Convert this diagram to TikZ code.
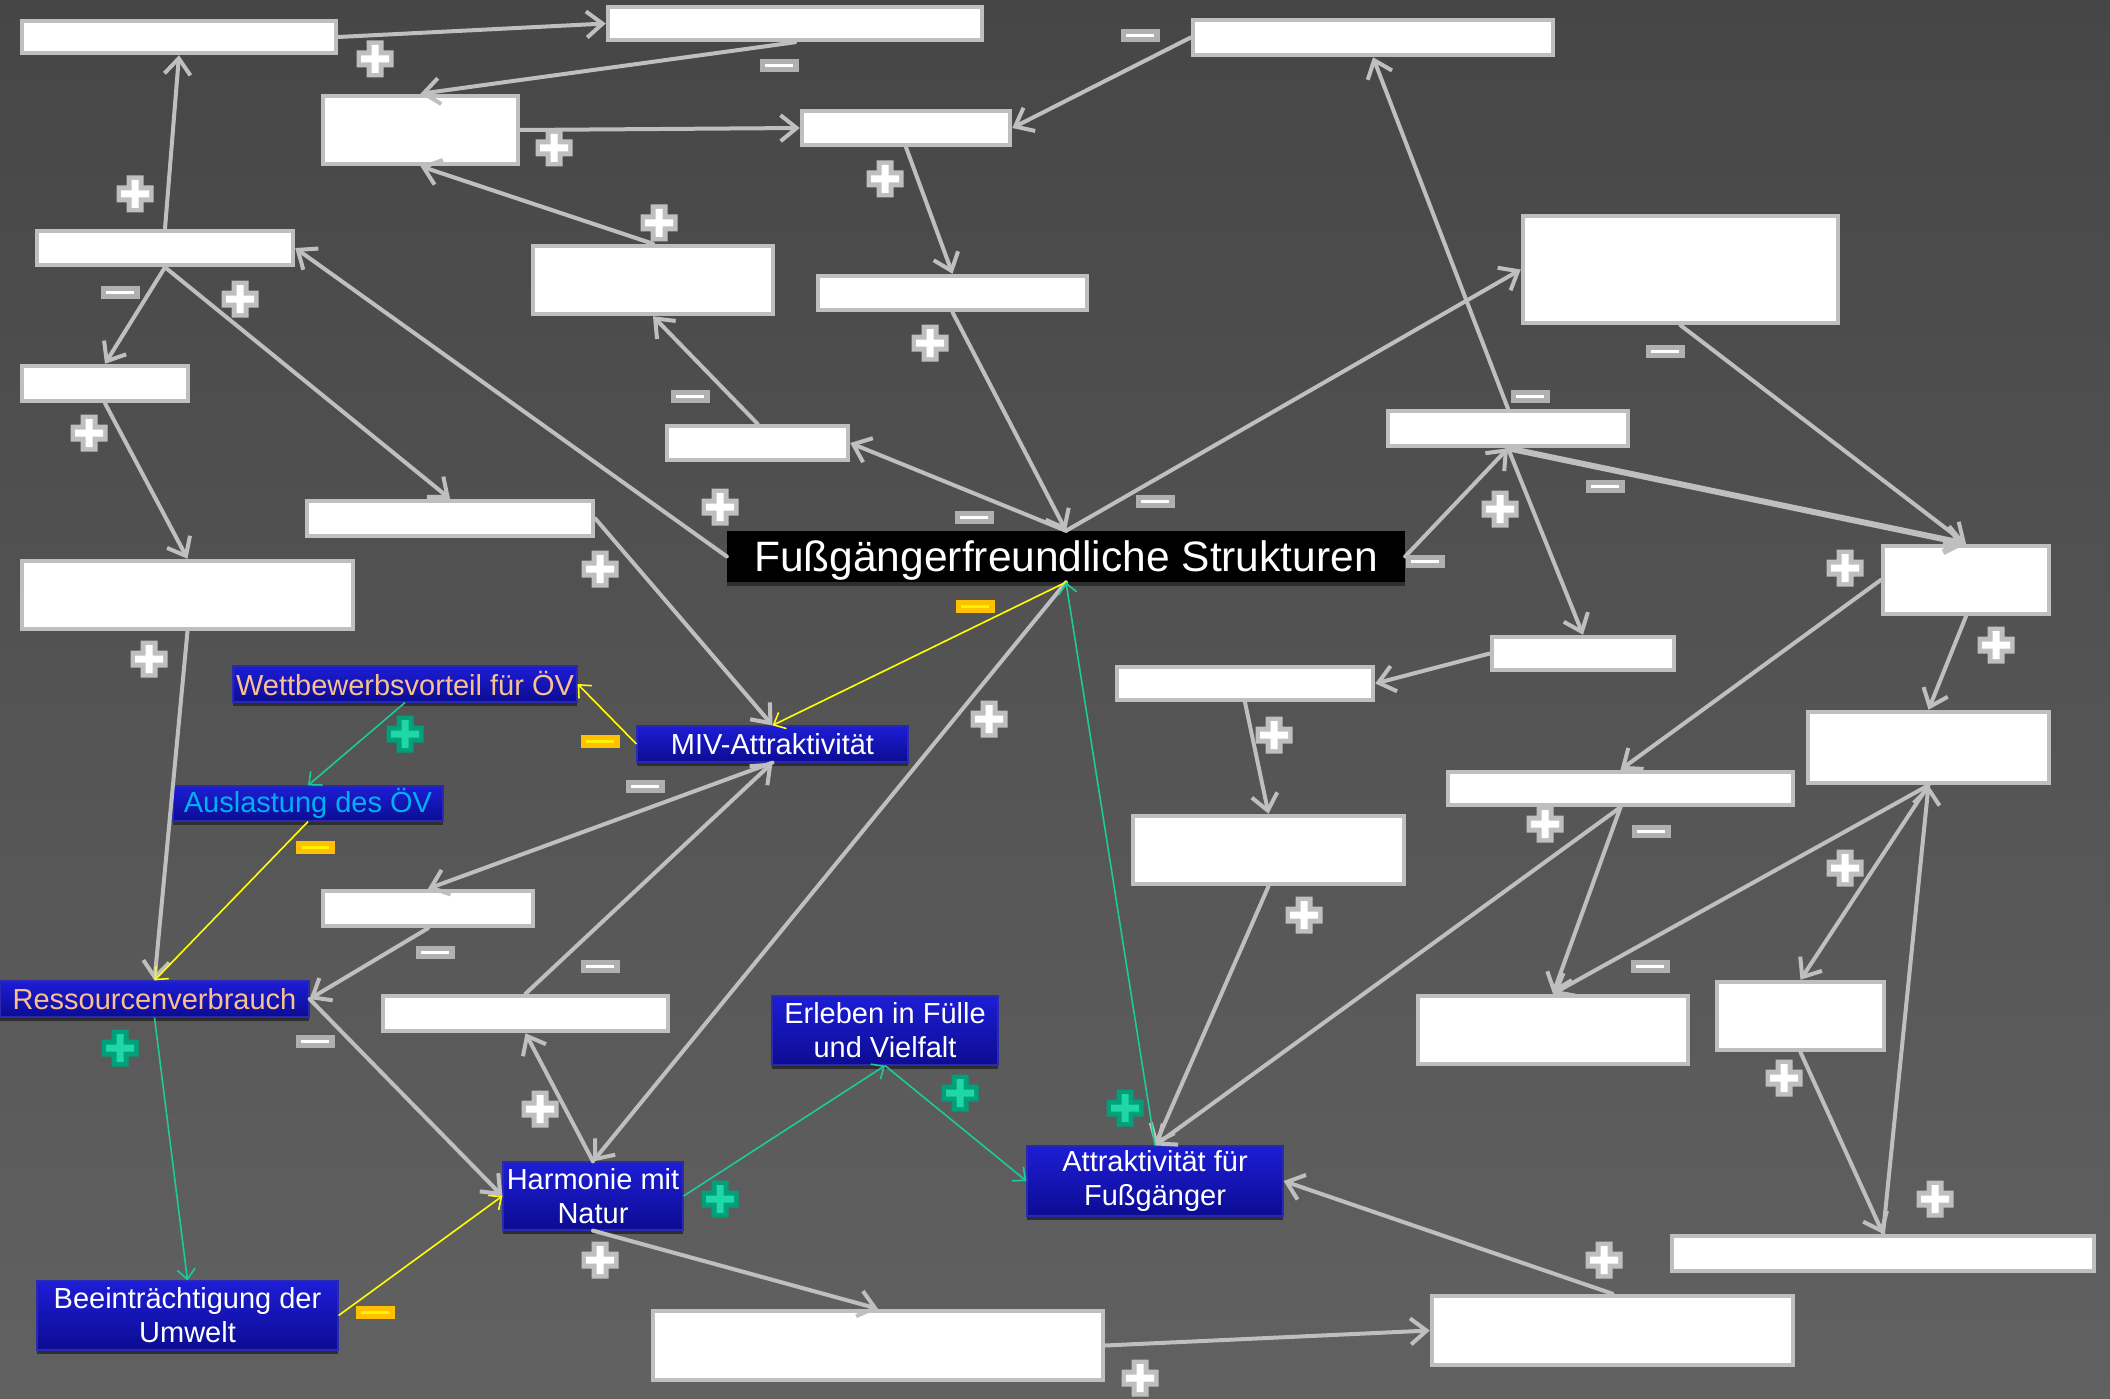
\documentclass[tikz,border=0pt]{standalone}
\usepackage{fontspec}
\setmainfont{Liberation Sans}
\usetikzlibrary{arrows.meta}
\definecolor{lg}{HTML}{BFBFBF}
\definecolor{mg}{HTML}{B0B0B0}
\definecolor{bgtop}{HTML}{464646}
\definecolor{bgbot}{HTML}{616161}
\definecolor{btop}{HTML}{1D1DD6}
\definecolor{bbot}{HTML}{0C0C92}
\definecolor{bbord}{HTML}{2A2AB0}
\definecolor{peach}{HTML}{FAC090}
\definecolor{azure}{HTML}{00B0F0}
\definecolor{gline}{HTML}{1ACC99}
\definecolor{yline}{HTML}{FFFF00}
\definecolor{gdark}{HTML}{00A07A}
\definecolor{glight}{HTML}{1ED8A8}
\definecolor{ydark}{HTML}{FFC000}
\definecolor{ylight}{HTML}{FFF200}
\definecolor{shad}{HTML}{2E2E2E}
\tikzset{
  wbox/.style={draw=lg, fill=white, line width=4.5pt, inner sep=0pt},
  shadowed/.style={preaction={fill=shad, transform canvas={yshift=-4pt}}},
  bbox/.style={shadowed, draw=bbord, top color=btop, bottom color=bbot, line width=1.2pt, inner sep=0pt,
    text=white, font=\fontsize{29}{34}\selectfont, align=center},
  conn/.style={draw=lg, line width=4pt, line cap=round, -{Straight Barb[length=16pt,width=26pt]}},
  thick conn/.style={conn, line width=6pt},
  yconn/.style={draw=yline, line width=1.6pt, -{Straight Barb[length=10pt,width=18pt]}},
  gconn/.style={draw=gline, line width=1.6pt, -{Straight Barb[length=10pt,width=18pt]}},
  pics/gplus/.style={code={
    \fill[lg] (-8.5,-18.5) rectangle (8.5,18.5) (-18.5,-8.5) rectangle (18.5,8.5);
    \fill[white] (-3.5,-14) rectangle (3.5,14) (-14,-3.5) rectangle (14,3.5);}},
  pics/gminus/.style={code={
    \fill[mg] (-19.5,-6.5) rectangle (19.5,6.5);
    \fill[white] (-14,-1.5) rectangle (14,1.5);}},
  pics/cplus/.style={code={
    \fill[gdark] (-8.5,-18.5) rectangle (8.5,18.5) (-18.5,-8.5) rectangle (18.5,8.5);
    \fill[glight] (-3.5,-14) rectangle (3.5,14) (-14,-3.5) rectangle (14,3.5);}},
  pics/yminus/.style={code={
    \fill[ydark] (-19.5,-6.5) rectangle (19.5,6.5);
    \fill[ylight] (-14,-1.5) rectangle (14,1.5);}},
}
\begin{document}
\begin{tikzpicture}[x=1pt,y=-1pt]
\useasboundingbox (0,0) rectangle (2110,1399);
\shade[top color=bgtop, bottom color=bgbot] (0,0) rectangle (2110,1399);

% white boxes
\node[wbox, minimum width=314pt, minimum height=32pt] (W1) at (179,37) {};
\node[wbox, minimum width=374pt, minimum height=33pt] (W2) at (795,23.5) {};
\node[wbox, minimum width=360pt, minimum height=35pt] (W3) at (1373,37.5) {};
\node[wbox, minimum width=195pt, minimum height=68pt] (W4) at (420.5,130) {};
\node[wbox, minimum width=208pt, minimum height=34pt] (W5) at (906,128) {};
\node[wbox, minimum width=256pt, minimum height=34pt] (W6) at (165,248) {};
\node[wbox, minimum width=240pt, minimum height=68pt] (W7) at (653,280) {};
\node[wbox, minimum width=269pt, minimum height=34pt] (W8) at (952.5,293) {};
\node[wbox, minimum width=315pt, minimum height=107pt] (W9) at (1680.5,269.5) {};
\node[wbox, minimum width=166pt, minimum height=35pt] (W10) at (105,383.5) {};
\node[wbox, minimum width=181pt, minimum height=34pt] (W11) at (757.5,443) {};
\node[wbox, minimum width=240pt, minimum height=35pt] (W12) at (1508,428.5) {};
\node[wbox, minimum width=286pt, minimum height=35pt] (W13) at (450,518.5) {};
\node[wbox, minimum width=331pt, minimum height=68pt] (W14) at (187.5,595) {};
\node[wbox, minimum width=166pt, minimum height=68pt] (W15) at (1966,580) {};
\node[wbox, minimum width=182pt, minimum height=33pt] (W16) at (1583,653.5) {};
\node[wbox, minimum width=256pt, minimum height=33pt] (W17) at (1245,683.5) {};
\node[wbox, minimum width=241pt, minimum height=71pt] (W18) at (1928.5,747.5) {};
\node[wbox, minimum width=345pt, minimum height=33pt] (W19) at (1620.5,788.5) {};
\node[wbox, minimum width=271pt, minimum height=68pt] (W20) at (1268.5,850) {};
\node[wbox, minimum width=210pt, minimum height=35pt] (W21) at (428,908.5) {};
\node[wbox, minimum width=285pt, minimum height=35pt] (W22) at (525.5,1013.5) {};
\node[wbox, minimum width=270pt, minimum height=68pt] (W23) at (1553,1030) {};
\node[wbox, minimum width=167pt, minimum height=68pt] (W24) at (1800.5,1016) {};
\node[wbox, minimum width=422pt, minimum height=35pt] (W25) at (1883,1253.5) {};
\node[wbox, minimum width=450pt, minimum height=69pt] (W26) at (878,1345.5) {};
\node[wbox, minimum width=361pt, minimum height=69pt] (W27) at (1612.5,1330.5) {};

% main node
\node[shadowed, fill=black, text=white, inner sep=0pt, minimum width=678pt, minimum height=51pt,
  font=\fontsize{42.5}{48}\selectfont] (M) at (1066,556.5)
  {\raisebox{-4pt}[\height][\depth]{Fußgängerfreundliche Strukturen}};

% blue nodes
\node[bbox, text=peach, minimum width=344pt, minimum height=36pt] (BW) at (405,684) {Wettbewerbsvorteil für ÖV};
\node[bbox, text=azure, minimum width=270pt, minimum height=35pt] (BA) at (308,803.5) {Auslastung des ÖV};
\node[bbox, minimum width=271pt, minimum height=36pt] (BMIV) at (772.5,744) {MIV-Attraktivität};
\node[bbox, text=peach, minimum width=309pt, minimum height=36pt] (BR) at (154.5,999) {Ressourcenverbrauch};
\node[bbox, minimum width=226pt, minimum height=69pt] (BE) at (885,1030.5) {Erleben in Fülle\\und Vielfalt};
\node[bbox, minimum width=180pt, minimum height=68pt] (BH) at (593,1196) {Harmonie mit\\Natur};
\node[bbox, minimum width=301pt, minimum height=69pt] (BB) at (187.5,1315.5) {Beeinträchtigung der\\Umwelt};
\node[bbox, minimum width=256pt, minimum height=70pt] (BF) at (1155,1181) {Attraktivität für\\Fußgänger};

% gray connectors
\draw[conn] (W1.east) -- (W2.west);
\draw[conn] (W2.south) -- (W4.north);
\draw[conn] (W4.east) -- (W5.west);
\draw[conn] (W3.west) -- (W5.east);
\draw[conn] (W7.north) -- (W4.south);
\draw[conn] (W5.south) -- (W8.north);
\draw[conn] (W6.north) -- (W1.south);
\draw[conn] (W6.south) -- (W10.north);
\draw[conn] (W6.south) -- (W13.north);
\draw[conn] (M.west) -- (W6.east);
\draw[conn] (W10.south) -- (W14.north);
\draw[conn] (W11.north) -- (W7.south);
\draw[conn] (M.north) -- (W11.east);
\draw[conn] (W8.south) -- (M.north);
\draw[conn] (M.north) -- (W9.west);
\draw[conn] (W12.north) -- (W3.south);
\draw[conn] (M.east) -- (W12.south);
\draw[thick conn] (W12.south) -- (W15.north);
\draw[conn] (W9.south) -- (W15.north);
\draw[conn] (W12.south) -- (W16.north);
\draw[conn] (W16.west) -- (W17.east);
\draw[conn] (W17.south) -- (W20.north);
\draw[conn] (W20.south) -- (BF.north);
\draw[conn] (W15.west) -- (W19.north);
\draw[conn] (W15.south) -- (W18.north);
\draw[conn] (W19.south) -- (BF.north);
\draw[conn] (W19.south) -- (W23.north);
\draw[conn] (W18.south) -- (W23.north);
\draw[conn] (W18.south) -- (W24.north);
\draw[conn] (W25.north) -- (W18.south);
\draw[conn] (W24.south) -- (W25.north);
\draw[conn] (W27.north) -- (BF.east);
\draw[conn] (W26.east) -- (W27.west);
\draw[conn] (BH.south) -- (W26.north);
\draw[conn] (BH.north) -- (W22.south);
\draw[conn] (M.south) -- (BH.north);
\draw[conn] (W22.north) -- (BMIV.south);
\draw[conn] (BMIV.south) -- (W21.north);
\draw[conn] (W21.south) -- (BR.east);
\draw[conn] (BR.east) -- (BH.west);
\draw[conn] (W13.east) -- (BMIV.north);
\draw[conn] (W14.south) -- (BR.north);

% coloured connectors
\draw[yconn] (M.south) -- (BMIV.north);
\draw[yconn] (BMIV.west) -- (BW.east);
\draw[yconn] (BA.south) -- (BR.north);
\draw[yconn] (BB.east) -- (BH.west);
\draw[gconn] (BW.south) -- (BA.north);
\draw[gconn] (BR.south) -- (BB.north);
\draw[gconn] (BH.east) -- (BE.south);
\draw[gconn] (BE.south) -- (BF.west);
\draw[gconn] (BF.north) -- (M.south);

% signs
\foreach \p in {(375,59),(554,148),(659,223),(885,179),(135,194),(240,299),(720,507),
  (89,433),(930,343),(1500,509),(1845,568),(600,569),(149,659),(989,719),(1274,735),
  (1304,915),(1996,645),(1545,824),(1845,868),(1935,1199),(1784,1078),(1604,1260),
  (1140,1378),(600,1260),(540,1109)}
  \pic at \p {gplus};
\foreach \p in {(779,66),(1140,36),(120,292),(690,396),(974,517),(1155,501),(1530,396),
  (1605,486),(1665,351),(1425,561),(1651,831),(1650,966),(645,786),(435,952),(600,966),
  (315,1041)}
  \pic at \p {gminus};
\foreach \p in {(975,606),(600,741),(315,847),(375,1312)}
  \pic at \p {yminus};
\foreach \p in {(405,734),(120,1048),(720,1199),(960,1093),(1125,1108)}
  \pic at \p {cplus};
\end{tikzpicture}
\end{document}
